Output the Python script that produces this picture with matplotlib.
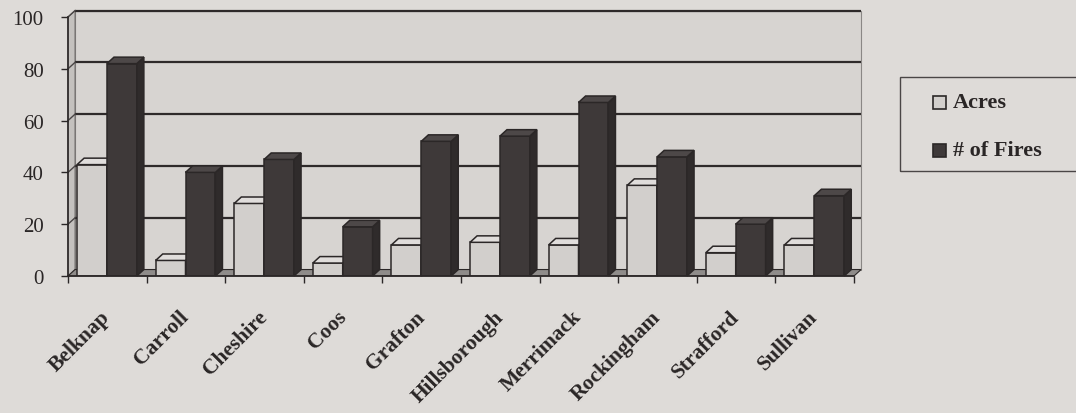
import matplotlib
matplotlib.use('Agg')
import matplotlib.pyplot as plt
from matplotlib.patches import Polygon, Rectangle
from matplotlib.transforms import ScaledTranslation

plt.rcParams['font.family'] = ['Liberation Serif', 'DejaVu Serif']

# ── DATA ─────────────────────────────────────────────────────────────────────
counties = ['Belknap', 'Carroll', 'Cheshire', 'Coos', 'Grafton',
            'Hillsborough', 'Merrimack', 'Rockingham', 'Strafford', 'Sullivan']
acres = [43, 6, 28, 5, 12, 13, 12, 35, 9, 12]
fires = [82, 40, 45, 19, 52, 54, 67, 46, 20, 31]
y_ticks = [0, 20, 40, 60, 80, 100]
series_names = ['Acres', '# of Fires']

# ── STYLE ────────────────────────────────────────────────────────────────────
BG = '#dedbd8'
WALL = '#d7d4d1'
SIDEWALL = '#c4c1be'
FLOOR = '#8f8c8a'
EDGE = '#2b2727'
ACRE_FACE, ACRE_TOP = '#d2cfcc', '#e0dddb'
FIRE_FACE, FIRE_TOP, FIRE_SIDE = '#3e3939', '#4d4848', '#2f2b2b'

DX, DY = 0.09, 2.5      # depth offset (category units, value units)
BW = 0.38               # bar width
OFF = 0.115             # offset of first bar inside category

W, H = 1076, 414
fig = plt.figure(figsize=(W / 100, H / 100), dpi=100, facecolor=BG)
ax = fig.add_axes([68 / W, 1 - 277 / H, (854 - 68) / W, (277 - 18) / H])
ax.set_xlim(0, len(counties))
ax.set_ylim(0, 100)
ax.patch.set_alpha(0)

n = len(counties)

# walls and floor
ax.add_patch(Rectangle((DX, DY), n, 100, fc=WALL, ec='#8a8785', lw=0.8,
                       zorder=0, clip_on=False))
ax.add_patch(Polygon([(0, 0), (DX, DY), (DX, 100 + DY), (0, 100)],
                     fc=SIDEWALL, ec='#6e6b69', lw=0.8, zorder=0.5, clip_on=False))
ax.add_patch(Polygon([(0, 0), (n, 0), (n + DX, DY), (DX, DY)],
                     fc=FLOOR, ec=EDGE, lw=0.8, zorder=0.5, clip_on=False))

# gridlines on the back wall
for t in y_ticks[1:]:
    ax.plot([DX, n + DX], [t + DY, t + DY], color='#2e2a2a', lw=1.6,
            zorder=1, clip_on=False, solid_capstyle='butt')
    ax.plot([0, DX], [t, t + DY], color='#4a4646', lw=1.0, zorder=1, clip_on=False)


def bar3d(x, h, face, top, side, z):
    ax.bar(x, h, width=BW, align='edge', color=face, edgecolor=EDGE,
           linewidth=1.1, zorder=z)
    ax.add_patch(Polygon([(x + BW, 0), (x + BW, h), (x + BW + DX, h + DY),
                          (x + BW + DX, DY)], fc=side, ec=EDGE, lw=1.1,
                         zorder=z, clip_on=False))
    ax.add_patch(Polygon([(x, h), (x + DX, h + DY), (x + BW + DX, h + DY),
                          (x + BW, h)], fc=top, ec=EDGE, lw=1.1,
                         zorder=z, clip_on=False))


for i in range(n):
    xa = i + OFF
    bar3d(xa, acres[i], ACRE_FACE, ACRE_TOP, ACRE_FACE, 2 + i * 0.1)
    bar3d(xa + BW, fires[i], FIRE_FACE, FIRE_TOP, FIRE_SIDE, 2.05 + i * 0.1)

# axes
for s in ['top', 'right']:
    ax.spines[s].set_visible(False)
for s in ['left', 'bottom']:
    ax.spines[s].set_color(EDGE)
    ax.spines[s].set_linewidth(1.2)
    ax.spines[s].set_zorder(5)

ax.set_yticks(y_ticks)
ax.set_yticklabels([str(t) for t in y_ticks], fontsize=15, color='#2a2626')
ax.tick_params(axis='y', direction='out', length=5, width=1, color=EDGE, pad=12.5)

ax.set_xticks(range(n + 1))
ax.set_xticklabels([])
ax.set_xticks([i + 0.5 for i in range(n)], minor=True)
ax.set_xticklabels(counties, minor=True, rotation=45, ha='right',
                   rotation_mode='anchor', fontsize=15.5, fontweight='bold',
                   color='#2a2626')
ax.tick_params(axis='x', which='major', direction='out', length=5, width=1, color=EDGE)
ax.tick_params(axis='x', which='minor', length=0, pad=22)
shift = ScaledTranslation(-7 / 100, 0, fig.dpi_scale_trans)
for lbl in ax.get_xticklabels(minor=True):
    lbl.set_transform(lbl.get_transform() + shift)

# legend box
fig.add_artist(Rectangle((900 / W, 1 - 172 / H), 185 / W, 94 / H,
                         transform=fig.transFigure, fc='none', ec='#4a4646', lw=1.0))
leg_y = [103, 151]
leg_fc = [ACRE_FACE, FIRE_FACE]
for name, yy, fc in zip(series_names, leg_y, leg_fc):
    fig.add_artist(Rectangle((933 / W, 1 - (yy + 7) / H), 13 / W, 13 / H,
                             transform=fig.transFigure, fc=fc, ec=EDGE, lw=1.2))
    fig.text(953 / W, 1 - yy / H, name, fontsize=16, fontweight='bold',
             color='#2a2626', va='center', ha='left')

fig.savefig('out.png', dpi=100, facecolor=BG)
